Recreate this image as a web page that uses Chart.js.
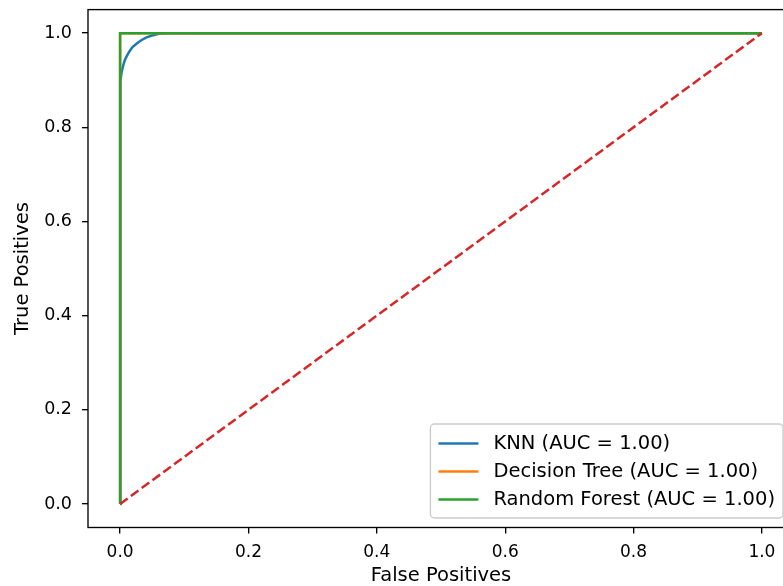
<!DOCTYPE html>
<html>
<head>
<meta charset="utf-8">
<script src="https://cdn.jsdelivr.net/npm/chart.js@4.4.1/dist/chart.umd.min.js"></script>
<style>
  html, body { margin: 0; padding: 0; background: #fff; overflow: hidden; width: 783px; height: 586px; }
  #wrap { position: absolute; left: 0; top: -40px; width: 882px; height: 626px; }
</style>
</head>
<body>
<div id="wrap"><canvas id="roc" width="882" height="626"></canvas></div>
<script>
// ── Data ──────────────────────────────────────────────────────────────────────
const TITLE = 'Comparison of Classifiers ROC Curve';
const X_LABEL = 'False Positives';
const Y_LABEL = 'True Positives';

const TICKS = [0, 0.2, 0.4, 0.6, 0.8, 1.0];
const TICK_LABELS = ['0.0', '0.2', '0.4', '0.6', '0.8', '1.0'];

const KNN_LABEL = 'KNN (AUC = 1.00)';
const KNN_FPR = [0, 0, 0.001, 0.0025, 0.005, 0.0075, 0.010, 0.014, 0.019, 0.026, 0.033, 0.041, 0.050, 0.062, 0.075, 0.1, 1.0];
const KNN_TPR = [0, 0.883, 0.900, 0.918, 0.932, 0.943, 0.950, 0.960, 0.970, 0.978, 0.985, 0.991, 0.995, 0.999, 1.0, 1.0, 1.0];

const DT_LABEL = 'Decision Tree (AUC = 1.00)';
const DT_FPR = [0, 0, 1];
const DT_TPR = [0, 1, 1];

const RF_LABEL = 'Random Forest (AUC = 1.00)';
const RF_FPR = [0, 0, 1];
const RF_TPR = [0, 1, 1];

const CHANCE_X = [0, 1];
const CHANCE_Y = [0, 1];

// ── Helpers ───────────────────────────────────────────────────────────────────
const pts = (xs, ys) => xs.map((x, i) => ({ x, y: ys[i] }));
const FONT = 'DejaVu Sans';

// axes frame (all four spines, like matplotlib)
const frame = {
  id: 'frame',
  afterDatasetsDraw(chart) {
    const { ctx, chartArea: a } = chart;
    ctx.save();
    ctx.strokeStyle = '#000';
    ctx.lineWidth = 1.35;
    ctx.strokeRect(a.left, a.top, a.right - a.left, a.bottom - a.top);
    ctx.restore();
  },
};

// legend boxed in the lower right of the axes
const innerLegend = {
  id: 'innerLegend',
  afterDraw(chart) {
    const { ctx, chartArea: a } = chart;
    const items = chart.data.datasets.filter(d => d.label);
    ctx.save();
    ctx.font = `19.5px "${FONT}"`;
    const textW = Math.max(...items.map(d => ctx.measureText(d.label).width));
    const w = 8 + 40 + 15 + textW + 8;
    const h = 94;
    const right = a.right - 11, bottom = a.bottom - 9.5;
    const left = right - w, top = bottom - h;
    ctx.beginPath();
    if (ctx.roundRect) ctx.roundRect(left, top, w, h, 4); else ctx.rect(left, top, w, h);
    ctx.fillStyle = 'rgba(255,255,255,0.8)';
    ctx.fill();
    ctx.strokeStyle = '#cccccc';
    ctx.lineWidth = 1.4;
    ctx.stroke();
    items.forEach((d, i) => {
      const y = top + 19.5 + i * 28;
      ctx.setLineDash([]);
      ctx.strokeStyle = d.borderColor;
      ctx.lineWidth = 2.5;
      ctx.beginPath();
      ctx.moveTo(left + 8, y);
      ctx.lineTo(left + 48, y);
      ctx.stroke();
      ctx.fillStyle = '#000';
      ctx.textAlign = 'left';
      ctx.textBaseline = 'middle';
      ctx.fillText(d.label, left + 63, y);
    });
    ctx.restore();
  },
};

const fixedTicks = (scale) => {
  scale.ticks = TICKS.map(v => ({ value: v }));
};
const tickLabel = (v) => TICK_LABELS[TICKS.indexOf(Math.round(v * 10) / 10)] ?? '';

// ── Chart ─────────────────────────────────────────────────────────────────────
new Chart(document.getElementById('roc'), {
  type: 'line',
  data: {
    datasets: [
      { label: KNN_LABEL, data: pts(KNN_FPR, KNN_TPR), borderColor: '#1f77b4', order: 4 },
      { label: DT_LABEL, data: pts(DT_FPR, DT_TPR), borderColor: '#ff7f0e', order: 3 },
      { label: RF_LABEL, data: pts(RF_FPR, RF_TPR), borderColor: '#2ca02c', order: 2 },
      { data: pts(CHANCE_X, CHANCE_Y), borderColor: '#d62728', borderDash: [9.4, 4], order: 1 },
    ],
  },
  options: {
    responsive: false,
    animation: false,
    devicePixelRatio: 1,
    layout: { padding: 0 },
    elements: {
      line: { borderWidth: 2.5, tension: 0, fill: false, borderCapStyle: 'butt' },
      point: { radius: 0, hoverRadius: 0 },
    },
    plugins: {
      legend: { display: false },
      tooltip: { enabled: false },
      title: {
        display: true,
        text: TITLE,
        color: '#000',
        font: { family: FONT, size: 23, weight: 'normal', lineHeight: 1.2 },
        padding: { top: 15, bottom: 7 },
      },
    },
    scales: {
      x: {
        type: 'linear',
        min: -0.05,
        max: 1.05,
        afterBuildTicks: fixedTicks,
        afterFit: (s) => { s.height = 58.5; },
        ticks: { color: '#000', padding: 9, font: { family: FONT, size: 17 }, callback: tickLabel },
        grid: { drawOnChartArea: false, drawTicks: true, tickLength: 6, color: '#000', lineWidth: 1.35 },
        border: { display: false },
        title: {
          display: true, text: X_LABEL, color: '#000',
          font: { family: FONT, size: 19.5, lineHeight: 1.0 },
          padding: { top: 0, bottom: 0 },
        },
      },
      y: {
        type: 'linear',
        position: 'left',
        min: -0.05,
        max: 1.05,
        afterBuildTicks: fixedTicks,
        afterFit: (s) => { s.width = 88; },
        ticks: { color: '#000', padding: 10, font: { family: FONT, size: 17.5 }, callback: tickLabel },
        grid: { drawOnChartArea: false, drawTicks: true, tickLength: 6, color: '#000', lineWidth: 1.35 },
        border: { display: false },
        title: {
          display: true, text: Y_LABEL, color: '#000',
          font: { family: FONT, size: 19.5, lineHeight: 1.2 },
          padding: { top: 11, bottom: 0 },
        },
      },
      // empty right-hand box so the title centres over the axes
      y2: {
        type: 'linear',
        position: 'right',
        min: -0.05,
        max: 1.05,
        afterFit: (s) => { s.width = 88; },
        ticks: { display: false },
        grid: { display: false },
        border: { display: false },
      },
    },
  },
  plugins: [frame, innerLegend],
});
</script>
</body>
</html>
